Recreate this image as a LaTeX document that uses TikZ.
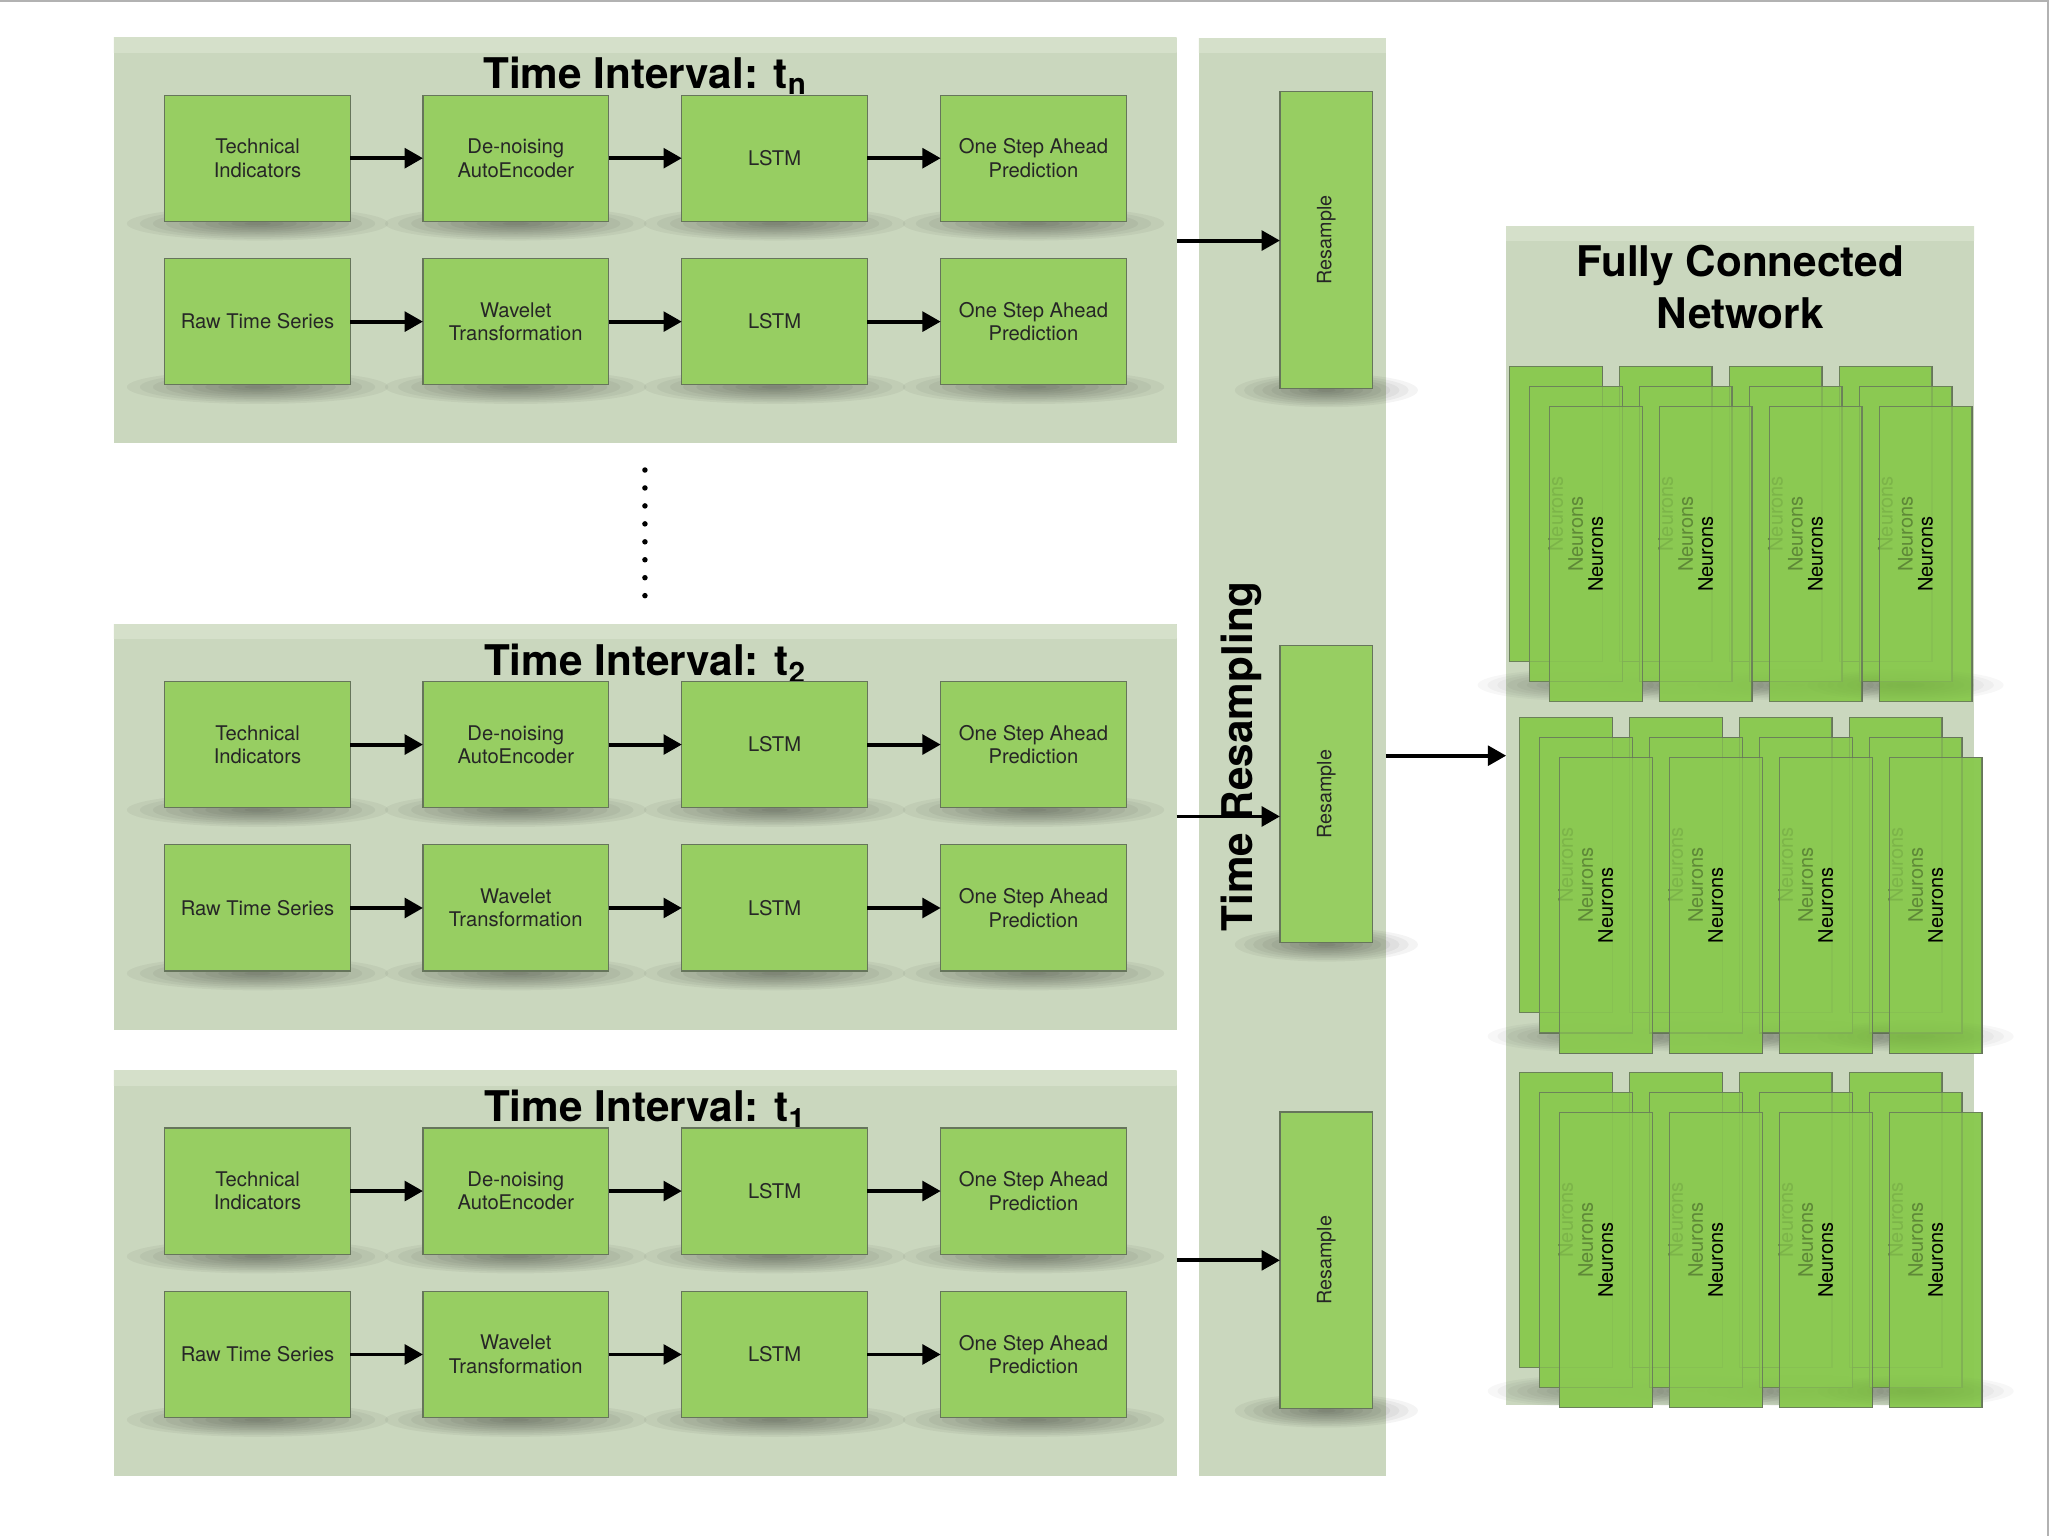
\documentclass[tikz,border=0pt]{standalone}
\usepackage{fontspec}
\setmainfont{TeX Gyre Heros}
\usetikzlibrary{positioning,arrows.meta}
\definecolor{panelbg}{HTML}{CAD7BE}
\definecolor{paneltop}{HTML}{D5E0CA}
\definecolor{boxgreen}{HTML}{97CE62}
\definecolor{boxline}{HTML}{66755B}
\definecolor{neurongreen}{HTML}{8BC952}
\tikzset{%
  ptr/.style={%
    -{Triangle[length=0.28cm,width=0.3cm]},
    line width=0.06cm
  },
  panel/.style={%
    fill=panelbg, inner sep=0, outer sep=0,
    path picture={\fill[top color=paneltop,bottom color=panelbg]
      (path picture bounding box.north west) rectangle
      ([yshift=-0.22cm]path picture bounding box.north east);}
  },
  stage/.style={%
    draw=boxline, fill=boxgreen, line width=0.5pt,
    minimum width=2.84cm, minimum height=1.93cm,
    inner sep=0, outer sep=0, align=center, text=black!85,
    font=\fontsize{8.8}{10.2}\selectfont
  },
  rsbox/.style={%
    draw=boxline, fill=boxgreen, line width=0.5pt,
    minimum width=1.42cm, minimum height=4.54cm,
    inner sep=0, outer sep=0, text=black!85,
    font=\fontsize{8.6}{10}\selectfont
  },
  neuron/.style={%
    draw=boxline, draw opacity=0.8, line width=0.5pt,
    fill=neurongreen, fill opacity=0.68, text opacity=1,
    minimum width=1.42cm, minimum height=4.52cm,
    inner sep=0, outer sep=0,
    font=\fontsize{8.7}{10}\selectfont
  },
  bigttl/.style={%
    inner sep=0, font=\fontsize{18.4}{22.8}\selectfont\bfseries
  }
}
% soft shadow under a box: centre x, centre y, x radius, y radius, step opacity
\newcommand\softblur[5]{%
  \foreach \q in {1,...,10}
    \fill[black,opacity=#5] (#1,#2) ellipse ({\q*#3/10} and {\q*#4/10});
}
\begin{document}
\begin{tikzpicture}[x=0.02cm,y=-0.02cm]
  \useasboundingbox (0,0) rectangle (1568,1175);
  \draw[black!30,line width=0.8pt] (0,0.6) -- (1566.5,0.6) -- (1566.5,1175);

  % resampling column and network panel
  \node[panel,minimum width=2.86cm,minimum height=22cm] (col) at (988.5,579) {};
  \node[panel,minimum width=7.16cm,minimum height=18.04cm] (fcn) at (1331,624) {};

  % the time intervals
  \foreach \p/\y/\s in {tn/184/n,t2/632.5/2,t1/974/1}{
    \node[panel,minimum width=16.26cm,minimum height=6.2cm] (\p) at (493.5,\y) {};
    \node[bigttl,anchor=base] (\p-ttl) at (493.5,\y-116) {Time Interval: t\textsubscript{\s}};
    \foreach \x/\u/\v [count=\i] in {197/{Technical\\Indicators}/{Raw Time Series},
        394.5/{De-noising\\AutoEncoder}/{Wavelet\\Transformation},
        592.5/LSTM/LSTM,
        790.5/{One Step Ahead\\Prediction}/{One Step Ahead\\Prediction}}{
      \softblur{\x}{\y-13}{100}{13}{0.045}
      \softblur{\x}{\y+112}{100}{13}{0.045}
      \node[stage] (\p-a\i) at (\x,\y-63) {\u};
      \node[stage] (\p-b\i) at (\x,\y+62) {\v};
    }
    \foreach \i [evaluate=\i as \j using int(\i+1)] in {1,2,3}{
      \draw[ptr] (\p-a\i) -- (\p-a\j);
      \draw[ptr] (\p-b\i) -- (\p-b\j);
    }
  }

  % dots between t2 and tn
  \foreach \k in {0,...,7}
    \fill (493.3,359.5+13.73*\k) circle (0.042cm);

  % resample boxes
  \foreach \n/\y in {rsA/183.5,rsB/607.5,rsC/964}{
    \softblur{1014.5}{\y+115}{70}{13}{0.045}
    \node[rsbox] (\n) at (1014.5,\y) {\rotatebox{90}{Resample}};
  }
  \node[bigttl,rotate=90,anchor=base] (col-ttl) at (958,578.5) {Time Resampling};

  \coordinate (inB) at (979,624.5);
  \coordinate (outB) at (1058,578);
  \draw[ptr] (tn.east) -- (tn.east -| rsA.west);
  \draw[ptr] (t2.east |- inB) -- (rsB.west |- inB);
  \draw[ptr] (t1.east |- rsC) -- (rsC.west);
  \draw[ptr] (col.east |- outB) -- (fcn.west |- outB);

  % fully connected network
  \node[bigttl,align=center,anchor=north] (fcn-ttl) at (1331,187) {Fully Connected\\Network};
  \foreach \r/\xo/\yo in {1/1154.4/280,2/1162.1/548.7,3/1162.1/820}{
    \foreach \c in {0,...,3}
      \softblur{\xo+50.8+84.1*\c}{\yo+244}{75}{12}{0.03}
    \foreach \l in {0,1,2}
      \foreach \c in {0,...,3}
        \node[neuron] (nr\r-\c-\l) at (\xo+35.5+84.1*\c+15.3*\l,\yo+113+15.4*\l) {\rotatebox{90}{Neurons}};
  }
\end{tikzpicture}
\end{document}
